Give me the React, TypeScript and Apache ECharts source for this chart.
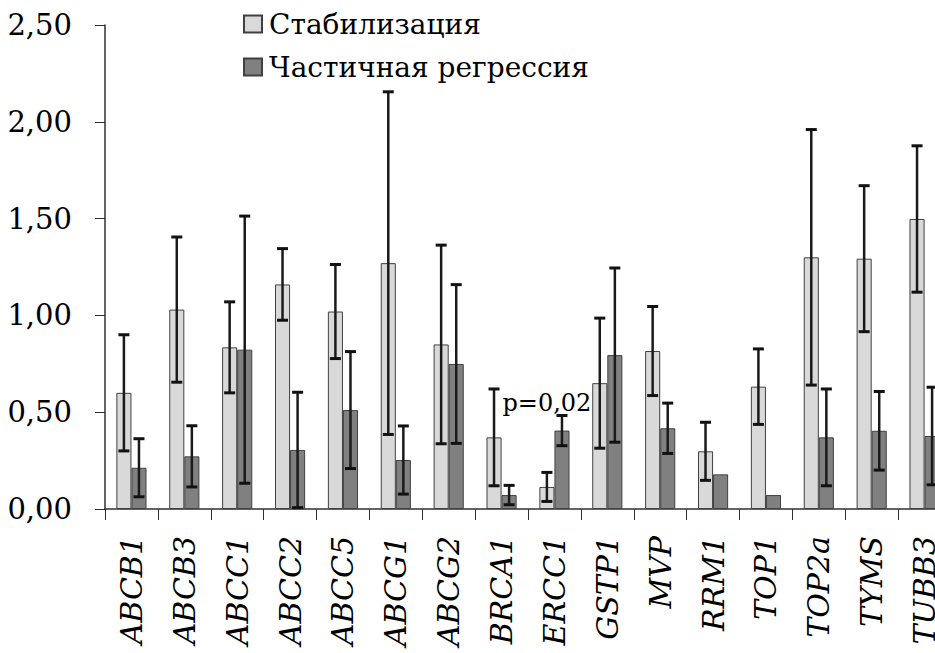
import React, { useEffect, useRef } from "react";
import * as echarts from "echarts";

const categories = ["ABCB1", "ABCB3", "ABCC1", "ABCC2", "ABCC5", "ABCG1", "ABCG2", "BRCA1", "ERCC1", "GSTP1", "MVP", "RRM1", "TOP1", "TOP2a", "TYMS", "TUBB3"];
const seriesNames = ["Стабилизация", "Частичная регрессия"];
const stabMean = [0.60, 1.03, 0.835, 1.16, 1.02, 1.27, 0.85, 0.37, 0.114, 0.65, 0.816, 0.298, 0.632, 1.30, 1.293, 1.498];
const stabErr = [0.30, 0.375, 0.235, 0.185, 0.243, 0.885, 0.513, 0.25, 0.075, 0.336, 0.23, 0.15, 0.195, 0.66, 0.377, 0.378];
const regrMean = [0.213, 0.272, 0.823, 0.305, 0.511, 0.253, 0.749, 0.072, 0.405, 0.795, 0.417, 0.179, 0.072, 0.37, 0.404, 0.377];
const regrErr = [0.15, 0.158, 0.69, 0.298, 0.302, 0.176, 0.41, 0.05, 0.078, 0.45, 0.13, 0, 0, 0.25, 0.203, 0.252];
const yTicks = { min: 0, max: 2.5, interval: 0.5 };
const annotation = { category: "ERCC1", value: 0.548, text: "p=0,02" };

const SERIF = "DejaVu Serif, serif";
const BAR_PCT = 0.285;

export default function App() {
  const ref = useRef<HTMLDivElement>(null);
  useEffect(() => {
    if (!ref.current) return;
    const chart = echarts.init(ref.current, null, { renderer: "svg" });
    const errData: number[][] = [];
    categories.forEach((_, i) => {
      errData.push([i, stabMean[i], stabErr[i], 0]);
      if (regrErr[i] > 0) errData.push([i, regrMean[i], regrErr[i], 1]);
    });
    chart.setOption({
      animation: false,
      textStyle: { fontFamily: SERIF },
      legend: {
        orient: "vertical",
        left: 238,
        top: 5,
        itemWidth: 18,
        itemHeight: 17,
        itemGap: 15,
        icon: "rect",
        textStyle: { fontFamily: SERIF, fontSize: 28, color: "#000", padding: [0, 0, 0, 2] },
        data: seriesNames,
      },
      grid: { left: 105, top: 25, bottom: 144, right: -16, outerBoundsMode: "none" },
      xAxis: {
        type: "category",
        data: categories,
        axisLine: { lineStyle: { color: "#303030", width: 1.5 } },
        axisTick: { show: true, length: 11, lineStyle: { color: "#303030" } },
        axisLabel: {
          rotate: 90,
          interval: 0,
          margin: 27,
          fontFamily: SERIF,
          fontStyle: "italic",
          fontSize: 30,
          color: "#000",
        },
      },
      yAxis: {
        type: "value",
        min: yTicks.min,
        max: yTicks.max,
        interval: yTicks.interval,
        splitLine: { show: false },
        axisLine: { show: true, lineStyle: { color: "#303030", width: 1.5 } },
        axisTick: { show: true, length: 10, lineStyle: { color: "#303030" } },
        axisLabel: {
          margin: 33,
          fontFamily: SERIF,
          fontSize: 29,
          color: "#000",
          formatter: (v: number) => v.toFixed(2).replace(".", ","),
        },
      },
      series: [
        {
          name: seriesNames[0],
          type: "bar",
          data: stabMean,
          barWidth: BAR_PCT * 100 + "%",
          barGap: "0%",
          itemStyle: { color: "#d9d9d9", borderColor: "#404040", borderWidth: 1 },
          markPoint: {
            symbol: "rect",
            symbolSize: 0,
            data: [{ coord: [annotation.category, annotation.value] }],
            label: {
              show: true,
              position: "inside",
              formatter: annotation.text,
              fontFamily: SERIF,
              fontSize: 24,
              color: "#000",
              offset: [0, 0],
            },
          },
        },
        {
          name: seriesNames[1],
          type: "bar",
          data: regrMean,
          barWidth: BAR_PCT * 100 + "%",
          barGap: "0%",
          itemStyle: { color: "#808080", borderColor: "#404040", borderWidth: 1 },
        },
        {
          type: "custom",
          data: errData,
          z: 10,
          silent: true,
          renderItem: (params: any, api: any) => {
            const cat = api.value(0);
            const mean = api.value(1);
            const err = api.value(2);
            const side = api.value(3);
            const c = api.coord([cat, mean]);
            const band = api.size([1, 0])[0];
            const bw = band * BAR_PCT;
            const x = c[0] + (side === 0 ? -bw / 2 : bw / 2);
            const yt = api.coord([cat, mean + err])[1];
            const yb = api.coord([cat, Math.max(0, mean - err)])[1];
            const cap = 5.5;
            const st = { stroke: "#1a1a1a", lineWidth: 2.5 };
            const capSt = { stroke: "#111", lineWidth: 3 };
            return {
              type: "group",
              children: [
                { type: "line", shape: { x1: x, y1: yt, x2: x, y2: yb }, style: st },
                { type: "line", shape: { x1: x - cap, y1: yt, x2: x + cap, y2: yt }, style: capSt },
                { type: "line", shape: { x1: x - cap, y1: yb, x2: x + cap, y2: yb }, style: capSt },
              ],
            };
          },
        },
      ],
    });
    return () => chart.dispose();
  }, []);
  return (
    <div
      ref={ref}
      style={{ position: "fixed", left: 0, top: 0, width: 935, height: 653, background: "#fff" }}
    />
  );
}
